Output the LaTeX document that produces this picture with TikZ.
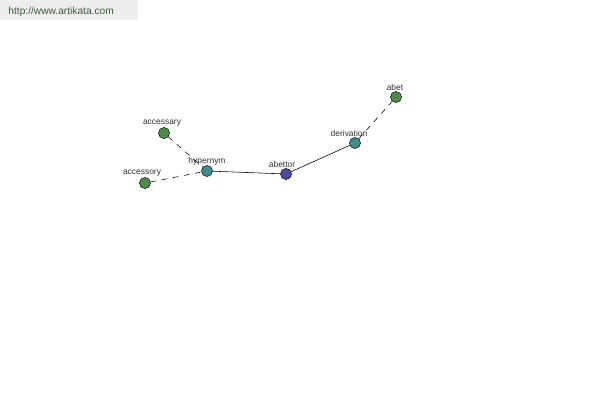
\documentclass[tikz,border=0pt]{standalone}
\usepackage{fontspec}
\setmainfont{Liberation Sans}
\usepackage{xcolor}
\usetikzlibrary{positioning}
\definecolor{leafgreen}{HTML}{4C8C46}
\definecolor{hubteal}{HTML}{3F8C8C}
\definecolor{rootblue}{HTML}{4A4A9E}
\definecolor{labelgray}{HTML}{333333}
\definecolor{bannergray}{HTML}{EEEEEE}
\definecolor{urlgreen}{HTML}{3D5A3D}

\begin{document}
\begin{tikzpicture}[
    x=0.05cm, y=-0.05cm,
    word/.style={circle, draw=black, line width=0.6pt, minimum size=5.6mm, inner sep=0pt},
    leaf/.style={word, fill=leafgreen},
    hub/.style={word, fill=hubteal},
    root/.style={word, fill=rootblue},
    tag/.style={font=\fontsize{12}{14}\selectfont, text=labelgray, inner sep=1pt},
    rel/.style={line width=0.8pt, draw=black},
    relx/.style={rel, dash pattern=on 8pt off 8pt}]

  % ---- page frame and banner ----
  \useasboundingbox (0,0) rectangle (600,400);
  \fill[white] (0,0) rectangle (600,400);
  \fill[bannergray] (0,0) rectangle (138,20);
  \node[font=\fontsize{14.5}{17}\selectfont, text=urlgreen, anchor=west] (url) at (6,11.5) {http://www.artikata.com};

  % ---- words ----
  \node[root] (abettor)    at (286,174) {};
  \node[hub]  (hypernym)   at (207,171) {};
  \node[hub]  (derivation) at (355,143) {};
  \node[leaf] (accessary)  at (164,133) {};
  \node[leaf] (accessory)  at (145,183) {};
  \node[leaf] (abet)       at (396,97)  {};

  % ---- labels ----
  \node[tag] (labettor)    at (282,164.5) {abettor};
  \node[tag] (lhypernym)   at (207,161.5) {hypernym};
  \node[tag] (lderivation) at (349,133.5) {derivation};
  \node[tag] (laccessary)  at (162,123.5) {accessary};
  \node[tag] (laccessory)  at (142,173.5) {accessory};
  \node[tag] (labet)       at (395,87.5)  {abet};

  % ---- relations ----
  \draw[rel]  (hypernym) -- (abettor);
  \draw[rel]  (abettor) -- (derivation);
  \draw[relx] (accessary) -- (hypernym);
  \draw[relx] (accessory) -- (hypernym);
  \draw[relx] (derivation) -- (abet);
\end{tikzpicture}
\end{document}
